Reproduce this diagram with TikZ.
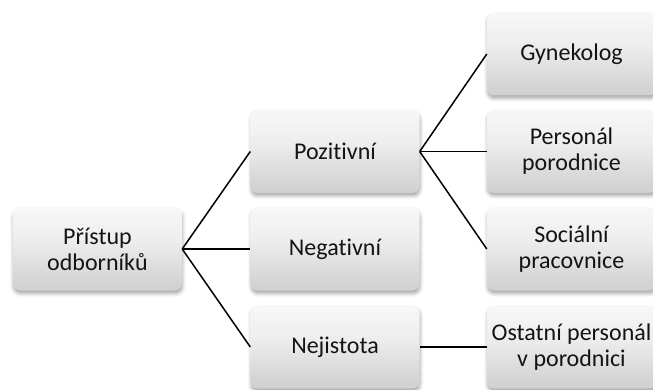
\documentclass[tikz,border=0pt]{standalone}
\usepackage{fontspec}
\setmainfont{Carlito}[Ligatures={NoCommon}]
\usetikzlibrary{shadows.blur}
% light top, darker grey towards the bottom edge
\pgfdeclareverticalshading{boxfill}{100bp}{
  color(0bp)=(black!24); color(30bp)=(black!17); color(55bp)=(black!7);
  color(75bp)=(black!3); color(100bp)=(black!2)}
\begin{document}
\begin{tikzpicture}[x=1pt,y=1pt,
  box/.style={rectangle, rounded corners=7pt, minimum width=169pt, minimum height=83pt,
    inner sep=0pt, align=center, shading=boxfill,
    font=\fontsize{24}{26}\selectfont, text=black!92,
    blur shadow={shadow xshift=0.5pt, shadow yshift=-3pt, shadow blur radius=3.5pt, shadow opacity=35}},
  link/.style={draw=black, line width=1.5pt}]
\useasboundingbox (0,0) rectangle (653,389);
% root
\node[box] (root) at (97.5,140) {Přístup\\odborníků};
% second level
\node[box] (poz) at (335,237.5) {Pozitivní};
\node[box] (neg) at (335,140) {Negativní};
\node[box] (nej) at (335,42) {Nejistota};
% third level
\node[box] (gyn) at (571.5,335) {Gynekolog};
\node[box] (per) at (571.5,237.5) {Personál\\porodnice};
\node[box] (soc) at (571.5,140) {Sociální\\pracovnice};
\node[box] (ost) at (571.5,42) {Ostatní personál\\v porodnici};
% connectors
\draw[link] (root.east) -- (poz.west);
\draw[link] (root.east) -- (neg.west);
\draw[link] (root.east) -- (nej.west);
\draw[link] (poz.east) -- (gyn.west);
\draw[link] (poz.east) -- (per.west);
\draw[link] (poz.east) -- (soc.west);
\draw[link] (nej.east) -- (ost.west);
\end{tikzpicture}
\end{document}
